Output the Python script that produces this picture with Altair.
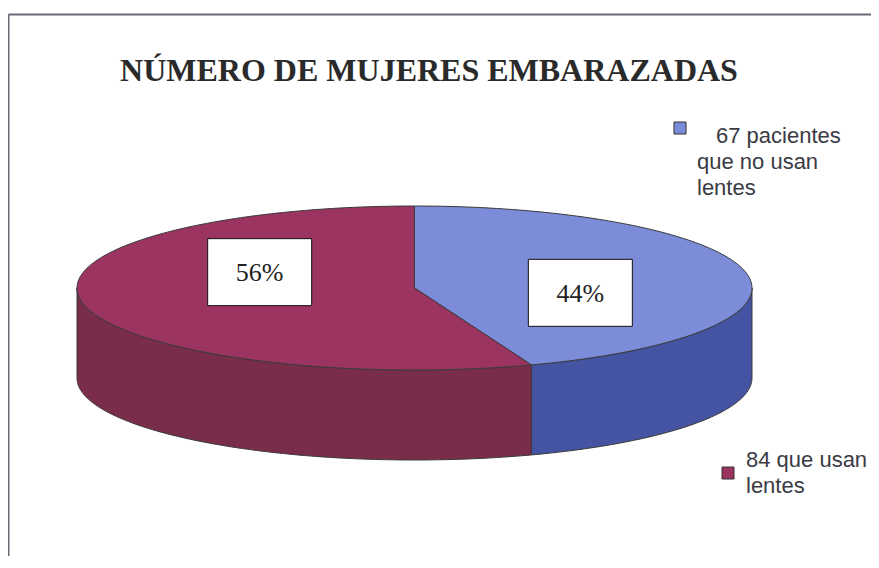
import math
import altair as alt
import pandas as pd

# ---------------- data ----------------
title_text = "NÚMERO DE MUJERES EMBARAZADAS"
categories = ["pacientes que no usan lentes", "que usan lentes"]
counts = [67, 84]
legend_lines = [["67 pacientes", "que no usan", "lentes"], ["84 que usan", "lentes"]]
top_colors = ["#7C8CD9", "#9C3462"]
side_colors = ["#4553A3", "#7A2C4B"]

# ---------------- layout (image pixel space) ----------------
W, H = 863, 548
CX, CY, RX, RY, DEPTH = 414.5, 288.0, 337.5, 82.0, 90.0
KX, KY, DX, DY = 0.4826, -0.716, 5.5, -5.5      # label placement factors
BOX_W, BOX_H = 104, 67
legend_anchor = [(674, 122), (722, 467)]        # marker top-left
legend_text_origin = [(697, 143), (746, 467)]   # first baseline
first_indent = [19, 0]
LINE_H = 26
SQ = 12


def pt(theta_deg, dz=0.0):
    t = math.radians(theta_deg)
    return [CX + RX * math.sin(t), CY - RY * math.cos(t) + dz]


def arc(a, b, dz=0.0, step=1.0):
    n = max(2, int(abs(b - a) / step) + 1)
    return [pt(a + (b - a) * i / (n - 1), dz) for i in range(n)]


def feature(coords, fill, stroke):
    return {"type": "Feature", "geometry": {"type": "Polygon", "coordinates": [coords]},
            "properties": {"fill": fill, "stroke": stroke}}


total = sum(counts)
angles = []
acc = 0.0
for c in counts:
    a = acc / total * 360.0
    acc += c
    b = acc / total * 360.0
    angles.append((a, b))

sides, tops, boxes, labels = [], [], [], []
for i, (a, b) in enumerate(angles):
    lo, hi = max(a, 90.0), min(b, 270.0)
    if lo < hi:
        ring = arc(lo, hi) + arc(hi, lo, DEPTH)
        ring.append(ring[0])
        sides.append(feature(ring, side_colors[i], "#3a3a3a"))
    ring = [[CX, CY]] + arc(a, b) + [[CX, CY]]
    tops.append(feature(ring, top_colors[i], "#3a3a3a"))
    m = math.radians((a + b) / 2)
    lx = CX + KX * RX * math.sin(m) + DX
    ly = CY - KY * RY * math.cos(m) + DY
    bx = [[lx - BOX_W / 2, ly - BOX_H / 2], [lx + BOX_W / 2, ly - BOX_H / 2],
          [lx + BOX_W / 2, ly + BOX_H / 2], [lx - BOX_W / 2, ly + BOX_H / 2],
          [lx - BOX_W / 2, ly - BOX_H / 2]]
    boxes.append(feature(bx, "#ffffff", "#111111"))
    labels.append({"lon": lx, "lat": ly + 1, "text": f"{round(counts[i] / total * 100)}%"})

squares = []
for i, (x0, y0) in enumerate(legend_anchor):
    sq = [[x0, y0], [x0 + SQ, y0], [x0 + SQ, y0 + SQ], [x0, y0 + SQ], [x0, y0]]
    squares.append(feature(sq, top_colors[i], "#333333"))

polys = sides + tops + boxes + squares

poly_layer = alt.Chart(alt.Data(values=polys)).mark_geoshape(strokeWidth=1).encode(
    fill=alt.Fill("properties.fill:N", scale=None),
    stroke=alt.Stroke("properties.stroke:N", scale=None),
)

frame_top = alt.Chart(alt.Data(values=[{}])).mark_rule(color="#6a6a74", strokeWidth=2).encode(
    x=alt.value(0.5), x2=alt.value(W), y=alt.value(6.5))
frame_left = alt.Chart(alt.Data(values=[{}])).mark_rule(color="#6a6a74", strokeWidth=2).encode(
    x=alt.value(0.5), y=alt.value(6.5), y2=alt.value(H))

pct_layer = alt.Chart(pd.DataFrame(labels)).mark_text(
    font="Liberation Serif", fontSize=26, color="#222222", align="center", baseline="middle"
).encode(longitude="lon:Q", latitude="lat:Q", text="text:N")

title_layer = alt.Chart(pd.DataFrame([{"lon": 429, "lat": 71, "text": title_text}])).mark_text(
    font="Liberation Serif", fontSize=32, fontWeight="bold", color="#2a2a2a",
    align="center", baseline="middle"
).encode(longitude="lon:Q", latitude="lat:Q", text="text:N")

leg_rows = []
for i, lines in enumerate(legend_lines):
    x0, y0 = legend_text_origin[i]
    for j, line in enumerate(lines):
        leg_rows.append({"lon": x0 + (first_indent[i] if j == 0 else 0),
                         "lat": y0 + j * LINE_H, "text": line})
legend_layer = alt.Chart(pd.DataFrame(leg_rows)).mark_text(
    font="Liberation Sans", fontSize=22, color="#3a3a44", align="left", baseline="alphabetic"
).encode(longitude="lon:Q", latitude="lat:Q", text="text:N")

chart = alt.layer(poly_layer, pct_layer, title_layer, legend_layer, frame_top, frame_left).project(
    type="identity", scale=1, translate=[-8, -8]
).properties(width=W, height=H, padding=0, autosize="none", background="#ffffff"
).configure_view(stroke=None)

chart.save("out.html", embed_options={"renderer": "svg", "actions": False})
